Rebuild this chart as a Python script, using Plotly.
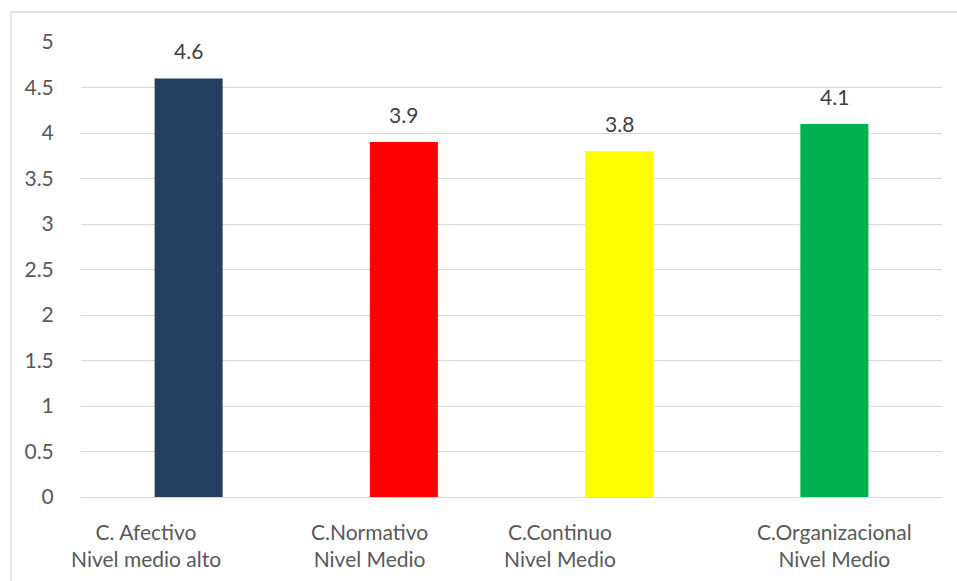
import plotly.graph_objects as go

categories = ["C. Afectivo<br>Nivel medio alto", "C.Normativo<br>Nivel Medio",
              "C.Continuo<br>Nivel Medio", "C.Organizacional<br>Nivel Medio"]
values = [4.6, 3.9, 3.8, 4.1]
colors = ["#243F60", "#FF0000", "#FFFF00", "#00B050"]
y_ticks = [0, 0.5, 1, 1.5, 2, 2.5, 3, 3.5, 4, 4.5, 5]
label_xshift = [-43, -34, -59, 0]

FONT = "Lato"
TXT = "#595959"
FS = 21

fig = go.Figure()
fig.add_trace(go.Bar(x=categories, y=values, marker=dict(color=colors, line=dict(width=0)),
                     hoverinfo="x+y"))

annotations = []
for c, v in zip(categories, values):
    annotations.append(dict(x=c, y=v, text=f"{v:.1f}", showarrow=False, yanchor="bottom",
                            yshift=13, font=dict(family=FONT, size=FS, color="#404040")))
for c, dx in zip(categories, label_xshift):
    annotations.append(dict(x=c, y=0, text=c, showarrow=False, yanchor="top", xanchor="center",
                            yshift=-20, xshift=dx, align="center",
                            font=dict(family=FONT, size=FS, color=TXT)))

W, H = 957, 581
ml, mr, mt, mb = 81, 15, 42, 84
pw, ph = W - ml - mr, H - mt - mb
bx = (11 - ml) / pw
by = 1 + (mt - 12) / ph
shapes = [
    dict(type="line", xref="paper", yref="paper", x0=bx, x1=1 + mr / pw, y0=by, y1=by,
         line=dict(color="#D9D9D9", width=1.3)),
    dict(type="line", xref="paper", yref="paper", x0=bx, x1=bx, y0=by, y1=-mb / ph,
         line=dict(color="#D9D9D9", width=1.3)),
]

fig.update_layout(
    width=W, height=H,
    margin=dict(l=ml, r=mr, t=mt, b=mb, autoexpand=False),
    paper_bgcolor="white", plot_bgcolor="white",
    bargap=0.684,
    showlegend=False,
    annotations=annotations,
    shapes=shapes,
    font=dict(family=FONT, size=FS, color=TXT),
)
fig.update_xaxes(range=[-0.5, len(categories) - 0.5], showgrid=False, showline=False,
                 showticklabels=False, ticks="", automargin=False)
fig.update_yaxes(range=[0, 5], tickvals=y_ticks, ticktext=[f"{t:g}" for t in y_ticks],
                 showgrid=True, gridcolor="#D9D9D9", gridwidth=1.3,
                 zeroline=True, zerolinecolor="#D9D9D9", zerolinewidth=1.3,
                 showline=False, ticks="outside", ticklen=22, tickcolor="rgba(0,0,0,0)",
                 automargin=False,
                 tickfont=dict(family=FONT, size=FS, color=TXT))

fig.write_html("out.html")
